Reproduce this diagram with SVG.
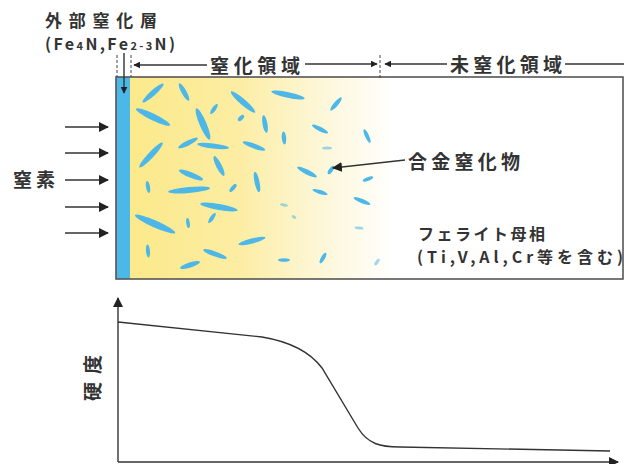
<svg xmlns="http://www.w3.org/2000/svg" width="629" height="464" viewBox="0 0 629 464">
  <defs>
    <linearGradient id="nitrideZone" gradientUnits="userSpaceOnUse" x1="130" y1="0" x2="395" y2="0">
      <stop offset="0" stop-color="#fbe98a"/>
      <stop offset="0.4" stop-color="#fcedA2"/>
      <stop offset="0.72" stop-color="#fdf7d8"/>
      <stop offset="1" stop-color="#ffffff"/>
    </linearGradient>
    <marker id="head" viewBox="0 0 10 10" refX="9" refY="5" markerWidth="7" markerHeight="7" markerUnits="userSpaceOnUse" orient="auto">
      <path d="M0,0 L10,5 L0,10 z" fill="#222"/>
    </marker>
    <marker id="headBig" viewBox="0 0 10 10" refX="9" refY="5" markerWidth="10" markerHeight="10" markerUnits="userSpaceOnUse" orient="auto">
      <path d="M0,0 L10,5 L0,10 z" fill="#222"/>
    </marker>
  </defs>
  <style>
    .jp { font-family: "Noto Sans CJK JP", "Noto Sans", sans-serif; font-weight: 600; fill: #333; }
    .line { stroke: #333; stroke-width: 1.4; fill: none; }
    .dash { stroke: #444; stroke-width: 1; stroke-dasharray: 3 2; fill: none; }
    .p { fill: #4db8e8; }
    .pf { fill: #4db8e8; opacity: 0.55; }
  </style>

  <rect width="629" height="464" fill="#ffffff"/>

  <!-- specimen cross-section -->
  <g id="specimen">
    <rect x="116" y="77" width="507" height="202" fill="#ffffff"/>
    <rect x="130" y="77" width="265" height="202" fill="url(#nitrideZone)"/>
    <rect x="116" y="77" width="14" height="202" fill="#4bb8e8"/>
    <rect x="116" y="77" width="507" height="202" fill="none" stroke="#555" stroke-width="1.6"/>
  </g>

  <!-- alloy nitride precipitates -->
  <g id="precipitates">
    <ellipse class="p" cx="153" cy="93" rx="14" ry="2.8" transform="rotate(-42 153 93)"/>
    <ellipse class="p" cx="184" cy="92" rx="10" ry="2.5" transform="rotate(61 184 92)"/>
    <ellipse class="p" cx="153" cy="117" rx="19" ry="3.3" transform="rotate(26 153 117)"/>
    <ellipse class="p" cx="203" cy="124" rx="17" ry="3.5" transform="rotate(67 203 124)"/>
    <ellipse class="p" cx="214" cy="109" rx="6" ry="2" transform="rotate(-55 214 109)"/>
    <ellipse class="p" cx="243" cy="102" rx="16" ry="3" transform="rotate(41 243 102)"/>
    <ellipse class="p" cx="241" cy="118" rx="4" ry="2" transform="rotate(-45 241 118)"/>
    <ellipse class="p" cx="188" cy="143" rx="11" ry="2.5" transform="rotate(-27 188 143)"/>
    <ellipse class="p" cx="213" cy="146" rx="16" ry="2.5" transform="rotate(7 213 146)"/>
    <ellipse class="p" cx="254" cy="146" rx="12" ry="2.5" transform="rotate(20 254 146)"/>
    <ellipse class="p" cx="151" cy="155" rx="17" ry="3" transform="rotate(-47 151 155)"/>
    <ellipse class="p" cx="219" cy="166" rx="11" ry="2.8" transform="rotate(63 219 166)"/>
    <ellipse class="p" cx="265" cy="124" rx="9" ry="2.5" transform="rotate(80 265 124)"/>
    <ellipse class="p" cx="284" cy="138" rx="6.5" ry="2.2" transform="rotate(85 284 138)"/>
    <ellipse class="p" cx="288" cy="95" rx="17" ry="2.8" transform="rotate(12 288 95)"/>
    <ellipse class="p" cx="320" cy="129" rx="9" ry="2.2" transform="rotate(27 320 129)"/>
    <ellipse class="p" cx="336" cy="104" rx="8.5" ry="2.2" transform="rotate(-50 336 104)"/>
    <ellipse class="p" cx="367" cy="136" rx="7.5" ry="2" transform="rotate(65 367 136)"/>
    <ellipse class="pf" cx="327" cy="148" rx="5" ry="1.6"/>
    <ellipse class="p" cx="307" cy="172" rx="11" ry="2.5" transform="rotate(27 307 172)"/>
    <ellipse class="p" cx="331" cy="170" rx="5" ry="2" transform="rotate(-55 331 170)"/>
    <ellipse class="p" cx="368" cy="179" rx="5.5" ry="1.8" transform="rotate(-20 368 179)"/>
    <ellipse class="p" cx="191" cy="175" rx="13" ry="2.8" transform="rotate(22 191 175)"/>
    <ellipse class="p" cx="257" cy="182" rx="10.5" ry="2.5" transform="rotate(78 257 182)"/>
    <ellipse class="p" cx="148" cy="187" rx="6" ry="2" transform="rotate(80 148 187)"/>
    <ellipse class="p" cx="189" cy="190" rx="21" ry="3" transform="rotate(-5 189 190)"/>
    <ellipse class="p" cx="233" cy="188" rx="5" ry="2" transform="rotate(-50 233 188)"/>
    <ellipse class="p" cx="320" cy="192" rx="8" ry="2" transform="rotate(18 320 192)"/>
    <ellipse class="p" cx="362" cy="201" rx="9" ry="2.2" transform="rotate(22 362 201)"/>
    <ellipse class="p" cx="219" cy="207" rx="19" ry="3" transform="rotate(10 219 207)"/>
    <ellipse class="pf" cx="284" cy="205" rx="4" ry="1.5" transform="rotate(10 284 205)"/>
    <ellipse class="pf" cx="294" cy="217" rx="2.5" ry="1.5" transform="rotate(30 294 217)"/>
    <ellipse class="p" cx="155" cy="224" rx="22" ry="3.5" transform="rotate(24 155 224)"/>
    <ellipse class="p" cx="188" cy="223" rx="5" ry="1.8" transform="rotate(82 188 223)"/>
    <ellipse class="p" cx="212" cy="218" rx="6" ry="2" transform="rotate(-55 212 218)"/>
    <ellipse class="pf" cx="359" cy="228" rx="4.5" ry="1.5" transform="rotate(5 359 228)"/>
    <ellipse class="p" cx="148" cy="251" rx="6.5" ry="2" transform="rotate(85 148 251)"/>
    <ellipse class="p" cx="252" cy="241" rx="14" ry="2.5" transform="rotate(-15 252 241)"/>
    <ellipse class="p" cx="215" cy="254" rx="12.5" ry="2.5" transform="rotate(20 215 254)"/>
    <ellipse class="p" cx="190" cy="265" rx="10.5" ry="2.5" transform="rotate(-18 190 265)"/>
    <ellipse class="p" cx="284" cy="260" rx="6" ry="1.8"/>
    <ellipse class="p" cx="323" cy="258" rx="6" ry="2" transform="rotate(-60 323 258)"/>
    <ellipse class="pf" cx="377" cy="262" rx="4" ry="1.6" transform="rotate(-55 377 262)"/>
  </g>

  <!-- connectors and dimension marks -->
  <g id="connectors">
    <line class="dash" x1="117" y1="55" x2="117" y2="77"/>
    <line class="dash" x1="131" y1="55" x2="131" y2="77"/>
    <line class="dash" x1="380" y1="55" x2="380" y2="78"/>
    <line class="line" x1="124" y1="53" x2="124" y2="93" stroke-width="1.1" marker-end="url(#head)"/>
    <line class="line" x1="207" y1="65" x2="134" y2="65" stroke-width="1.1" marker-end="url(#head)"/>
    <line class="line" x1="305" y1="64" x2="377" y2="64" stroke-width="1.1" marker-end="url(#head)"/>
    <line class="line" x1="447" y1="64" x2="385" y2="64" stroke-width="1.1" marker-end="url(#head)"/>
    <line class="line" x1="565" y1="64" x2="624" y2="64" stroke-width="1.1"/>
    <line class="line" x1="65" y1="127" x2="108" y2="127" marker-end="url(#headBig)"/>
    <line class="line" x1="65" y1="153" x2="108" y2="153" marker-end="url(#headBig)"/>
    <line class="line" x1="65" y1="180" x2="108" y2="180" marker-end="url(#headBig)"/>
    <line class="line" x1="65" y1="207" x2="108" y2="207" marker-end="url(#headBig)"/>
    <line class="line" x1="65" y1="233" x2="108" y2="233" marker-end="url(#headBig)"/>
    <line class="line" x1="405" y1="160" x2="333" y2="168" stroke-width="1.2" marker-end="url(#headBig)"/>
  </g>

  <!-- labels -->
  <g id="labels">
    <text class="jp" x="45" y="27" font-size="17" textLength="112" lengthAdjust="spacing">外部窒化層</text>
    <text class="jp" x="45" y="50" font-size="16" textLength="130" lengthAdjust="spacing">(Fe<tspan font-size="11">4</tspan>N,Fe<tspan font-size="11">2-3</tspan>N)</text>
    <text class="jp" x="210" y="73" font-size="19" textLength="90" lengthAdjust="spacing">窒化領域</text>
    <text class="jp" x="450" y="72" font-size="19" textLength="112" lengthAdjust="spacing">未窒化領域</text>
    <text class="jp" x="13" y="187" font-size="19" textLength="42" lengthAdjust="spacing">窒素</text>
    <text class="jp" x="408" y="169" font-size="19" textLength="112" lengthAdjust="spacing">合金窒化物</text>
    <text class="jp" x="418" y="240" font-size="16" textLength="127" lengthAdjust="spacing">フェライト母相</text>
    <text class="jp" x="417" y="263" font-size="16" textLength="206" lengthAdjust="spacing">(Ti,V,Al,Cr等を含む)</text>
    <text class="jp" x="0" y="0" font-size="19" textLength="46" lengthAdjust="spacing" transform="translate(100 401) rotate(-90)">硬度</text>
  </g>

  <!-- hardness profile -->
  <g id="hardness-chart">
    <line class="line" x1="118" y1="462" x2="118" y2="298" stroke="#555" stroke-width="1.6" marker-end="url(#headBig)"/>
    <line class="line" x1="118" y1="462" x2="618" y2="462" stroke="#555" stroke-width="1.6" marker-end="url(#headBig)"/>
    <path class="line" d="M118,322 L262,337 C292,342 310,352 322,368 L358,428 C368,444 380,447 400,447 L610,451"/>
  </g>
</svg>
